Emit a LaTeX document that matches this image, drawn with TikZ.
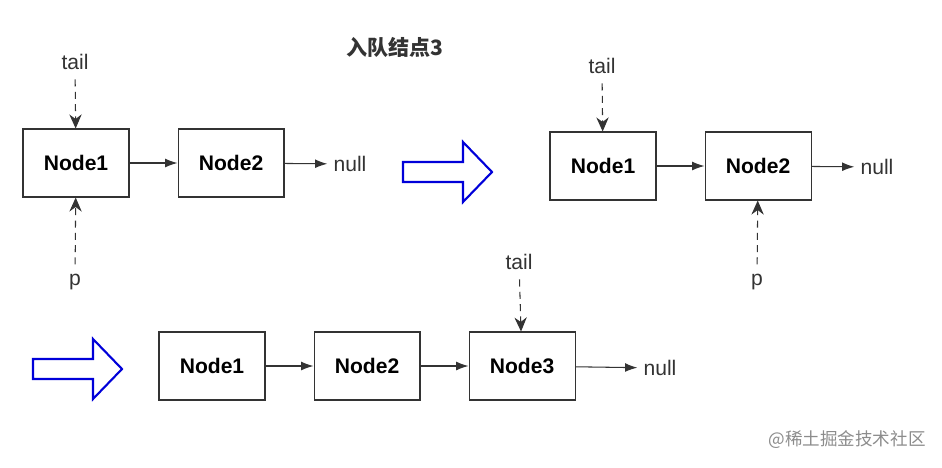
\documentclass[tikz,border=0pt]{standalone}
\usepackage{fontspec}
\setmainfont{Liberation Sans}
\newfontfamily\cjk{Noto Sans CJK SC}
\usetikzlibrary{positioning, arrows.meta}

\tikzset{
  box/.style={draw=black!80, semithick, minimum width=2.12cm, minimum height=1.36cm, font=\bfseries\large},
  link/.style={-{Latex[length=7pt,width=5pt]}, semithick, black!80},
  ptr/.style={-{Stealth[length=8pt,width=7pt]}, semithick, dash pattern=on 4pt off 3pt, black!80, shorten <=2pt},
  bigarrow/.style={draw=blue!85!black, very thick, fill=white},
  lbl/.style={text=black!80, font=\large}
}

\begin{document}
\begin{tikzpicture}[x=0.02cm, y=-0.02cm]
				\useasboundingbox (0,0) rectangle (942,467);
				\node[font=\cjk\bfseries\large, text=black!80] (title) at (395,47) {入队结点3};
				
				% before
				\node[box] (a1) at (76,163) {Node1};
				\node[box, right=0.96cm of a1] (a2) {Node2};
				\node[lbl] (anull) at (350,164) {null};
				\draw[link] (a1) -- (a2);
				\draw[link] (a2) -- (anull);
				\node[lbl] (atail) at (75,62) {tail};
				\node[lbl] (ap) at (75,282) {p};
				\draw[ptr] (atail) -- (a1);
				\draw[ptr] (ap) -- (a1);
				
				% arrows
				\draw[bigarrow] (403,162) -- (463,162) -- (463,142) -- (492,172) -- (463,202) -- (463,182) -- (403,182) -- cycle;
				\draw[bigarrow] (33,359) -- (93,359) -- (93,339) -- (122,369) -- (93,399) -- (93,379) -- (33,379) -- cycle;
				
				% after
				\node[box] (b1) at (603,166) {Node1};
				\node[box, right=0.96cm of b1] (b2) {Node2};
				\node[lbl] (bnull) at (877,167) {null};
				\draw[link] (b1) -- (b2);
				\draw[link] (b2) -- (bnull);
				\node[lbl] (btail) at (602,66) {tail};
				\node[lbl] (bp) at (757,282) {p};
				\draw[ptr] (btail) -- (b1);
				\draw[ptr] (bp) -- (b2);
				
				% result
				\node[box] (c1) at (212,366) {Node1};
				\node[box, right=0.96cm of c1] (c2) {Node2};
				\node[box, right=0.96cm of c2] (c3) {Node3};
				\node[lbl] (cnull) at (660,368) {null};
				\draw[link] (c1) -- (c2);
				\draw[link] (c2) -- (c3);
				\draw[link] (c3) -- (cnull);
				\node[lbl] (ctail) at (519,262) {tail};
				\draw[ptr] (ctail) -- (c3);
				
				\node[font=\cjk, text=black!45] (mark) at (847,440) {@稀土掘金技术社区};
			\end{tikzpicture}
\end{document}
